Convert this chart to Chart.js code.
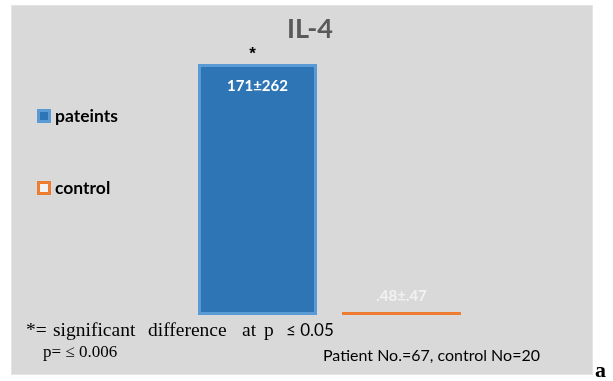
<!DOCTYPE html>
<html>
<head>
<meta charset="utf-8">
<script src="https://cdn.jsdelivr.net/npm/chart.js@4/dist/chart.umd.min.js"></script>
<style>
  html, body { margin: 0; padding: 0; background: #ffffff; }
  #wrap { width: 613px; height: 381px; position: relative; }
</style>
</head>
<body>
<div id="wrap"><canvas id="c" width="613" height="381"></canvas></div>
<script>
// IL-4 levels, mean ± SD
const categories = ['IL-4'];
const seriesNames = ['pateints', 'control'];
const patientsMean = [171];
const patientsSd = [262];
const controlMean = [0.48];
const controlSd = [0.47];
const yTicks = { min: 0, max: 200 };

const BLUE = '#2E75B6', BLUE_EDGE = '#5B9BD5', ORANGE = '#ED7D31';

// "0.48" -> ".48" as printed on the chart
function fmt(v) {
  let s = String(v);
  if (s.startsWith('0.')) s = s.slice(1);
  return s;
}

const panelPlugin = {
  id: 'panel',
  beforeDraw(chart) {
    const ctx = chart.ctx;
    ctx.save();
    ctx.fillStyle = '#ffffff';
    ctx.fillRect(0, 0, chart.width, chart.height);
    ctx.fillStyle = '#D9D9D9';
    ctx.fillRect(11, 5, 582, 370);
    ctx.strokeStyle = '#E4E4E4';
    ctx.lineWidth = 1;
    ctx.strokeRect(11.5, 5.5, 581, 369);
    ctx.restore();
  }
};

const textPlugin = {
  id: 'texts',
  afterDatasetsDraw(chart) {
    const ctx = chart.ctx;
    const sds = [patientsSd, controlSd];
    const means = [patientsMean, controlMean];
    ctx.save();
    ctx.textAlign = 'center';
    ctx.textBaseline = 'middle';

    // value labels on the bars
    chart.data.datasets.forEach((ds, i) => {
      const bar = chart.getDatasetMeta(i).data[0];
      const txt = fmt(means[i][0]) + '±' + fmt(sds[i][0]);
      if (i === 0) {
        ctx.fillStyle = '#ffffff';
        ctx.font = 'bold 15px Lato';
        ctx.fillText(txt, bar.x, bar.y + 22);
        // significance marker
        ctx.fillStyle = '#000000';
        ctx.font = 'bold 17px "Liberation Sans"';
        ctx.fillText('*', bar.x - 5, bar.y - 10);
      } else {
        ctx.fillStyle = '#F2F2F2';
        ctx.font = 'bold 15px Lato';
        ctx.fillText(txt, bar.x, bar.y - 16);
      }
    });

    // title
    ctx.fillStyle = '#595959';
    ctx.font = 'bold 27px Lato';
    ctx.fillText(categories[0], 310, 29);

    // legend
    const legendY = [116, 188];
    chart.data.datasets.forEach((ds, i) => {
      const y = legendY[i];
      if (i === 0) {
        ctx.fillStyle = BLUE_EDGE;
        ctx.fillRect(37, y - 7, 14, 14);
        ctx.fillStyle = BLUE;
        ctx.fillRect(40, y - 4, 8, 8);
      } else {
        ctx.fillStyle = ORANGE;
        ctx.fillRect(37, y - 7, 14, 14);
        ctx.fillStyle = '#F2F2F2';
        ctx.fillRect(40, y - 4, 8, 8);
      }
      ctx.fillStyle = '#000000';
      ctx.font = 'bold 17.5px Lato';
      ctx.textAlign = 'left';
      ctx.textBaseline = 'alphabetic';
      ctx.fillText(ds.label, 55, y + 6);
    });

    // footnotes
    ctx.textAlign = 'left';
    ctx.textBaseline = 'alphabetic';
    ctx.fillStyle = '#000000';
    ctx.font = '19.5px "Liberation Serif"';
    const words = [['*=', 26], ['significant', 53], ['difference', 148], ['at', 242], ['p', 264]];
    words.forEach(([w, x]) => ctx.fillText(w, x, 336));
    ctx.font = '17px Lato';
    ctx.fillText('\u2264 0.05', 286, 336);

    ctx.font = '17px "Liberation Serif"';
    ctx.fillText('p= \u2264 0.006', 43, 357);

    ctx.font = '16px Lato';
    ctx.fillText('Patient No.=67, control No=20', 323, 361);

    ctx.font = 'bold 22px "Liberation Serif"';
    ctx.fillText('a', 595, 377);
    ctx.restore();
  }
};

new Chart(document.getElementById('c'), {
  type: 'bar',
  data: {
    labels: categories,
    datasets: [
      {
        label: seriesNames[0],
        data: patientsMean,
        backgroundColor: BLUE,
        borderColor: BLUE_EDGE,
        borderWidth: 3,
        borderSkipped: false
      },
      {
        label: seriesNames[1],
        data: controlMean,
        backgroundColor: ORANGE,
        borderWidth: 0,
        minBarLength: 3
      }
    ]
  },
  options: {
    responsive: false,
    animation: false,
    devicePixelRatio: 1,
    layout: { padding: { left: 120, right: 74, top: 21.4, bottom: 66 } },
    categoryPercentage: 0.6874,
    barPercentage: 0.8264,
    plugins: { legend: { display: false }, title: { display: false }, tooltip: { enabled: false } },
    scales: {
      x: { display: false },
      y: { display: false, min: yTicks.min, max: yTicks.max }
    }
  },
  plugins: [panelPlugin, textPlugin]
});
</script>
</body>
</html>
